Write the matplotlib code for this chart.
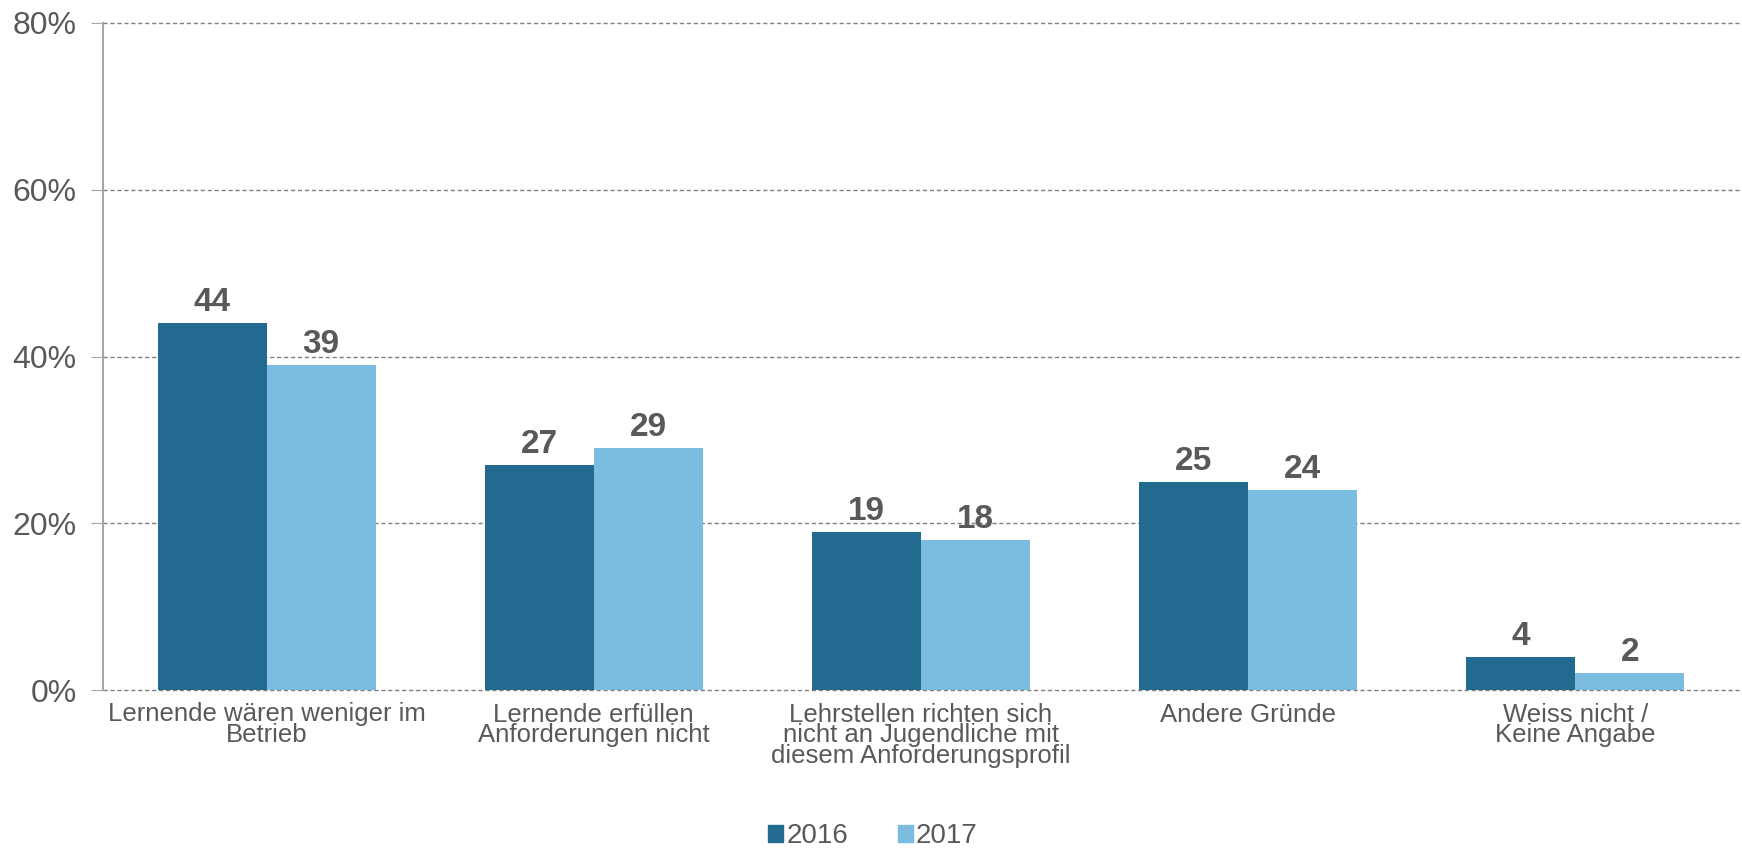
import numpy as np
import matplotlib
matplotlib.use('Agg')
import matplotlib.pyplot as plt
from matplotlib.patches import Patch

plt.rcParams['font.family'] = ['Liberation Sans', 'DejaVu Sans']

categories = ['Lernende wären weniger im\nBetrieb',
	'Lernende erfüllen\nAnforderungen nicht',
	'Lehrstellen richten sich\nnicht an Jugendliche mit\ndiesem Anforderungsprofil',
	'Andere Gründe',
	'Weiss nicht /\nKeine Angabe']
vals_2016 = [44, 27, 19, 25, 4]
vals_2017 = [39, 29, 18, 24, 2]
series_names = ['2016', '2017']
yticks = [0, 20, 40, 60, 80]

col_2016 = '#236a91'
col_2017 = '#7bbce0'
txt_col = '#595959'

fig = plt.figure(figsize=(17.42, 8.49), dpi=100)
ax = fig.add_axes([103/1742, 1 - 690/849, (1739-103)/1742, (690-23)/849])

x = np.arange(len(categories))
w = 1/3
ax.bar(x - w/2, vals_2016, w, color=col_2016, zorder=3)
ax.bar(x + w/2, vals_2017, w, color=col_2017, zorder=3)

for xi, v in zip(x - w/2, vals_2016):
	ax.text(xi, v + 0.6, str(v), ha='center', va='bottom', fontsize=24,
		fontweight='bold', color=txt_col)
for xi, v in zip(x + w/2, vals_2017):
	ax.text(xi, v + 0.6, str(v), ha='center', va='bottom', fontsize=24,
		fontweight='bold', color=txt_col)

ax.set_xlim(-0.5, len(categories) - 0.5)
ax.set_ylim(0, 80)
ax.set_yticks(yticks)
ax.set_yticklabels(['{}%'.format(t) for t in yticks])
ax.yaxis.grid(True, linestyle=(0, (3, 2)), color='#7f7f7f', linewidth=1, zorder=0)
for gl in ax.get_ygridlines():
	gl.set_clip_on(False)
ax.tick_params(axis='y', length=9, color='#a6a6a6', labelsize=23, labelcolor=txt_col, pad=10)
ax.set_xticks(x)
ax.set_xticklabels(categories, fontsize=18.5, color=txt_col, linespacing=0.82)
ax.tick_params(axis='x', length=0, pad=9)

for s in ['top', 'right', 'bottom']:
	ax.spines[s].set_visible(False)
ax.spines['left'].set_color('#a6a6a6')
ax.spines['left'].set_linewidth(1.5)

handles = [Patch(color=col_2016), Patch(color=col_2017)]
fig.legend(handles, series_names, loc='center', bbox_to_anchor=(873/1742, 1 - 836/849),
	ncol=2, frameon=False, fontsize=20, labelcolor=txt_col,
	handlelength=0.55, handleheight=0.55, handletextpad=0.1, columnspacing=1.8)

fig.savefig('out.png', dpi=100)
